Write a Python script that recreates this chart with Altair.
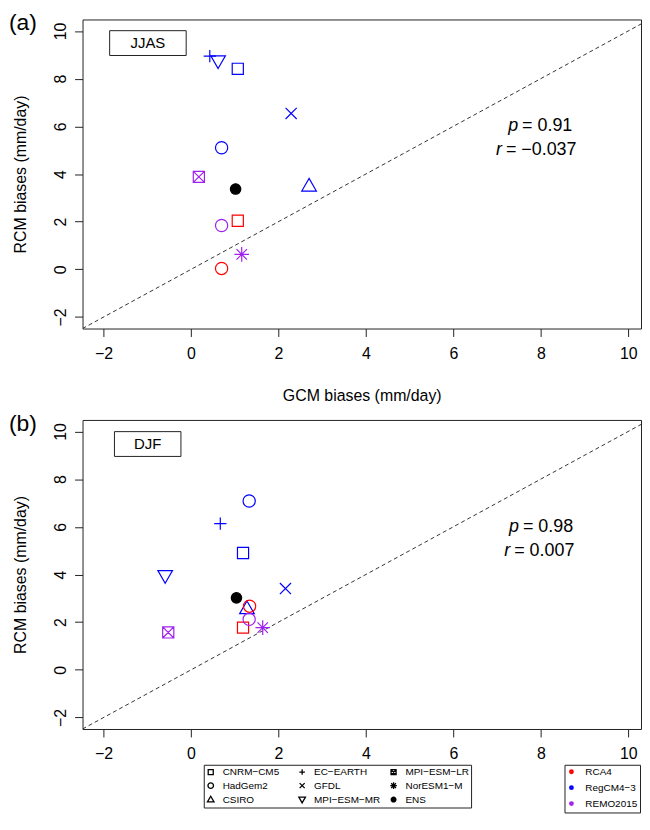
import altair as alt
import pandas as pd

FONT = "Liberation Sans"

# ---- categories -------------------------------------------------------
# shape legend order (filled column by column in a 3-column legend)
legend_order = ["CNRM−CM5", "HadGem2", "CSIRO",
                "EC−EARTH", "GFDL", "MPI−ESM−MR",
                "MPI−ESM−LR", "NorESM1−M", "ENS"]
shape_paths = [
    "M-0.8,-0.8L0.8,-0.8L0.8,0.8L-0.8,0.8Z",                                   # CNRM square
    "M0.88,0A0.88,0.88 0 1,1 -0.88,0A0.88,0.88 0 1,1 0.88,0Z",                 # HadGem2 circle
    "M0,-1.05L1.05,0.77L-1.05,0.77Z",                                          # CSIRO triangle up
    "M-0.88,0L0.88,0M0,-0.88L0,0.88",                                          # EC-EARTH plus
    "M-0.8,-0.8L0.8,0.8M-0.8,0.8L0.8,-0.8",                                    # GFDL x
    "M0,1.05L1.05,-0.77L-1.05,-0.77Z",                                         # MPI-MR triangle down
    "M-0.8,-0.8L0.8,-0.8L0.8,0.8L-0.8,0.8ZM-0.8,-0.8L0.8,0.8M-0.8,0.8L0.8,-0.8",  # MPI-LR boxed x
    "M-1.05,0L1.05,0M0,-1.05L0,1.05M-0.75,-0.75L0.75,0.75M-0.75,0.75L0.75,-0.75",  # NorESM asterisk
    "M0.75,0A0.75,0.75 0 1,1 -0.75,0A0.75,0.75 0 1,1 0.75,0ZM-0.75,0L0.75,0M0,-0.75L0,0.75M-0.5,-0.5L0.5,0.5M-0.5,0.5L0.5,-0.5",  # ENS dot
]
rcm_names = ["RCA4", "RegCM4−3", "REMO2015", "ENS"]
rcm_colors = ["#FF0000", "#0000FF", "#A020F0", "#000000"]
tick_values = [-2, 0, 2, 4, 6, 8, 10]

# ---- panel (a) JJAS ----------------------------------------------------
jjas_model = ["EC−EARTH", "MPI−ESM−MR", "CNRM−CM5", "GFDL", "HadGem2", "CSIRO",
              "MPI−ESM−LR", "HadGem2", "NorESM1−M",
              "CNRM−CM5", "HadGem2", "ENS"]
jjas_rcm = ["RegCM4−3"] * 6 + ["REMO2015"] * 3 + ["RCA4"] * 2 + ["ENS"]
jjas_gcm = [0.43, 0.62, 1.07, 2.29, 0.70, 2.70, 0.18, 0.70, 1.16, 1.07, 0.70, 1.02]
jjas_rcmb = [8.94, 8.73, 8.41, 6.54, 5.10, 3.51, 3.88, 1.84, 0.63, 2.04, 0.04, 3.37]

# ---- panel (b) DJF -----------------------------------------------------
djf_model = ["HadGem2", "EC−EARTH", "CNRM−CM5", "MPI−ESM−MR", "GFDL", "CSIRO",
             "HadGem2", "CNRM−CM5",
             "HadGem2", "NorESM1−M", "MPI−ESM−LR", "ENS"]
djf_rcm = ["RegCM4−3"] * 6 + ["RCA4"] * 2 + ["REMO2015"] * 3 + ["ENS"]
djf_gcm = [1.33, 0.67, 1.19, -0.59, 2.16, 1.28, 1.34, 1.19, 1.33, 1.64, -0.52, 1.04]
djf_rcmb = [7.08, 6.13, 4.90, 3.94, 3.41, 2.58, 2.67, 1.77, 2.12, 1.77, 1.57, 3.02]

# statistics text
jjas_stats = ["= 0.91", "= −0.037"]
djf_stats = ["= 0.98", "= 0.007"]

X_DOM = [-2.48, 10.29]
Y_DOM = [-2.48, 10.48]
xs = alt.Scale(domain=X_DOM, nice=False, zero=False)
ys = alt.Scale(domain=Y_DOM, nice=False, zero=False)


def panel(letter, season, models, rcms, gx, gy, stats, box, stat_x, show_title):
    xtitle = "GCM biases (mm/day)" if show_title else None
    xaxis = alt.Axis(values=tick_values, title=xtitle, labelPadding=9, titlePadding=26)
    yaxis = alt.Axis(values=tick_values, title="RCM biases (mm/day)", labelAngle=270,
                     labelAlign="center", labelBaseline="bottom", labelPadding=6,
                     titlePadding=24)

    def X(f):
        return alt.X(f, type="quantitative", scale=xs, axis=xaxis)

    def Y(f):
        return alt.Y(f, type="quantitative", scale=ys, axis=yaxis)

    df = pd.DataFrame({"model": models, "rcm": rcms, "gx": gx, "gy": gy})

    diag = alt.Chart(pd.DataFrame({"gx": Y_DOM, "gy": Y_DOM})).mark_line(
        color="#333333", strokeDash=[4, 3], strokeWidth=1, clip=True
    ).encode(x=X("gx"), y=Y("gy"))

    boxdf = pd.DataFrame({"gx": [box[0]], "gx2": [box[1]], "gy": [box[2]], "gy2": [box[3]],
                          "t": [season], "cx": [(box[0] + box[1]) / 2],
                          "cy": [(box[2] + box[3]) / 2]})
    rect = alt.Chart(boxdf).mark_rect(fill="white", stroke="#222222", strokeWidth=1).encode(
        x=X("gx"), x2="gx2", y=Y("gy"), y2="gy2")
    rtext = alt.Chart(boxdf).mark_text(font=FONT, fontSize=15, color="black").encode(
        x=X("cx"), y=Y("cy"), text="t:N")

    pts = alt.Chart(df).mark_point(filled=False, size=196, strokeWidth=1.2, opacity=1).encode(
        x=X("gx"), y=Y("gy"),
        shape=alt.Shape("model:N",
                        scale=alt.Scale(domain=legend_order, range=shape_paths),
                        legend=alt.Legend(title=None, orient="none", legendX=122, legendY=750,
                                          columns=3, gridAlign="all", strokeColor="#222222",
                                          padding=2,
                                          labelFont=FONT, labelFontSize=10, labelColor="black",
                                          symbolSize=40, symbolStrokeWidth=1.3,
                                          symbolStrokeColor="black", symbolFillColor="transparent",
                                          rowPadding=2, columnPadding=7, labelOffset=7)),
        color=alt.Color("rcm:N", scale=alt.Scale(domain=rcm_names, range=rcm_colors),
                        legend=alt.Legend(title=None, orient="none", legendX=485, legendY=750,
                                          values=rcm_names[:3], symbolType="circle",
                                          symbolSize=5, symbolStrokeWidth=2.6,
                                          strokeColor="#222222", padding=2,
                                          labelFont=FONT, labelFontSize=10, labelColor="black",
                                          rowPadding=2, labelOffset=9)),
        fill=alt.condition(alt.datum.model == "ENS", alt.value("black"), alt.value("transparent")),
    )

    sdf = pd.DataFrame({"gx": stat_x, "gy": [6.0, 5.0], "sym": ["p", "r"], "rest": stats})
    sym = alt.Chart(sdf).mark_text(font=FONT, fontSize=18, fontStyle="italic", align="right",
                                   color="black").encode(x=X("gx"), y=Y("gy"), text="sym:N")
    rest = alt.Chart(sdf).mark_text(font=FONT, fontSize=18, align="left", dx=4,
                                    color="black").encode(x=X("gx"), y=Y("gy"), text="rest:N")

    lab = alt.Chart(pd.DataFrame({"t": [letter]})).mark_text(
        font=FONT, fontSize=23, align="center", baseline="middle", color="black"
    ).encode(text="t:N", x=alt.value(-60), y=alt.value(4))

    return alt.layer(diag, rect, rtext, pts, sym, rest, lab).properties(width=562, height=311)


pa = panel("(a)", "JJAS", jjas_model, jjas_rcm, jjas_gcm, jjas_rcmb, jjas_stats,
           [-1.86, -0.11, 8.97, 10.01], [7.48, 7.11], True)
pb = panel("(b)", "DJF", djf_model, djf_rcm, djf_gcm, djf_rcmb, djf_stats,
           [-1.75, -0.23, 8.95, 9.99], [7.5, 7.3], False)

chart = alt.vconcat(pa, pb, spacing=8).properties(
    padding={"left": 0, "top": 1, "right": 0, "bottom": 0},
    background="white"
).configure_view(stroke="#222222", strokeWidth=1).configure_axis(
    labelFont=FONT, labelFontSize=16, labelColor="black", tickColor="#222222",
    tickSize=8, tickWidth=1, domain=False, grid=False,
    titleFont=FONT, titleFontSize=16, titleFontWeight="normal", titleColor="black"
)

chart.save("out.html", embed_options={"renderer": "svg", "actions": False})
